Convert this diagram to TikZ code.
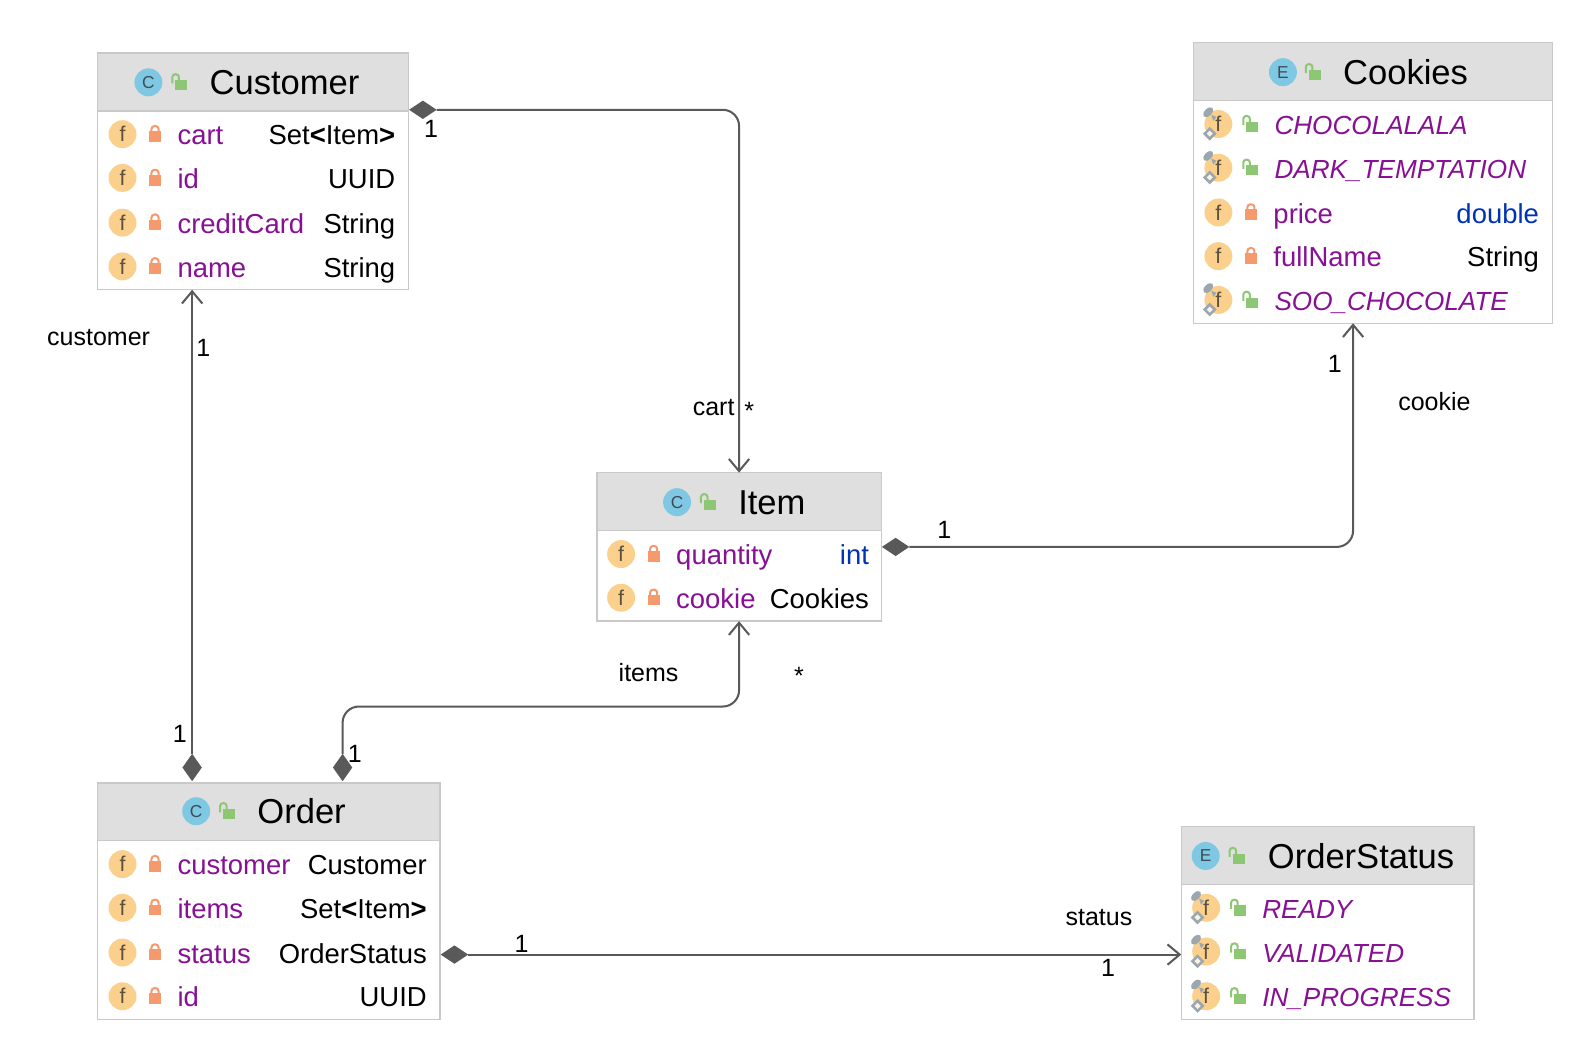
\documentclass[tikz,border=0pt]{standalone}
\usepackage{fontspec}
\setmainfont{Liberation Sans}
\usepackage{tikz}
\usetikzlibrary{arrows.meta,positioning,shapes.geometric}

\definecolor{fieldpurple}{HTML}{871094}
\definecolor{typeblue}{HTML}{0033B3}
\definecolor{headgray}{HTML}{DFDFDF}
\definecolor{boxgray}{HTML}{C9C9C9}
\definecolor{linegray}{HTML}{595959}
\definecolor{iconblue}{HTML}{7EC8E3}
\definecolor{iconyellow}{HTML}{FAD08C}
\definecolor{icontext}{HTML}{3F4B55}
\definecolor{iconbrown}{HTML}{5C5040}
\definecolor{lockorange}{HTML}{F59A6C}
\definecolor{lockgreen}{HTML}{8DC774}
\definecolor{pingray}{HTML}{9AA7B0}

\tikzset{
  classbox/.style={draw=boxgray,fill=white,line width=1.5pt,inner sep=0,outer sep=0},
  headbox/.style={draw=boxgray,fill=headgray,line width=1.5pt,inner sep=0,outer sep=0},
  title/.style={anchor=base west,inner sep=0,yshift=-12pt,font=\fontsize{34}{40}\selectfont},
  fname/.style={anchor=base west,inner sep=0,yshift=-10.5pt,text=fieldpurple,font=\fontsize{27}{32}\selectfont},
  ename/.style={anchor=base west,inner sep=0,yshift=-10.5pt,text=fieldpurple,font=\fontsize{25.7}{32}\selectfont\itshape},
  ftype/.style={anchor=base east,inner sep=0,yshift=-10.5pt,font=\fontsize{27}{32}\selectfont},
  lab/.style={inner sep=0,font=\fontsize{24.6}{30}\selectfont},
  assoc/.style={draw=linegray,line width=2pt,rounded corners=16pt,-{Straight Barb[length=12pt,width=20pt,line width=2pt]}},
  compv/.style={diamond,fill=linegray,inner sep=0,outer sep=0,minimum width=19pt,minimum height=27pt},
  comph/.style={diamond,fill=linegray,inner sep=0,outer sep=0,minimum width=27pt,minimum height=18pt},
  pics/kindicon/.style={code={
    \node[circle,fill=iconblue,minimum size=27.5pt,inner sep=0,text=icontext,font=\fontsize{17}{17}\selectfont] (-k) at (0,0) {#1};
  }},
  pics/fieldicon/.style={code={
    \node[circle,fill=iconyellow,minimum size=27.5pt,inner sep=0,text=iconbrown,font=\fontsize{21}{21}\selectfont] (-f) at (0,0) {f};
  }},
  pics/staticmark/.style={code={
    \fill[pingray,shift={(-10,-11.6)},rotate=45] (0,0) ellipse (6pt and 3.5pt);
    \fill[pingray] (-7,-9) -- (-2,-7) -- (-5,-3) -- cycle;
    \draw[pingray,fill=iconyellow!30,line width=2.5pt] (-8.5,4.5) -- (-3.5,9.5) -- (-8.5,14.5) -- (-13.5,9.5) -- cycle;
  }},
  pics/closedlock/.style={code={
    \fill[lockorange] (-5.8,-3) rectangle (5.8,7.5);
    \draw[lockorange,line width=2pt,rounded corners=3pt] (-3.5,-2) -- (-3.5,-8) -- (3.5,-8) -- (3.5,-2);
  }},
  pics/openlock/.style={code={
    \fill[lockgreen] (-4.5,-2.3) rectangle (7.3,7.6);
    \draw[lockgreen,line width=2pt,rounded corners=3pt] (-7.5,1) -- (-7.5,-8) -- (-1,-8) -- (-1,-2);
  }},
}

% one private field: id, x of the icon, y, name, type, right edge of the box text
\newcommand{\privrow}[6]{
\pic (#1i) at (#2,#3) {fieldicon};
\pic (#1l) at (#2+32,#3) {closedlock};
\node[fname] (#1n) at (#2+54,#3) {#4};
\node[ftype] (#1t) at (#6,#3) {#5};
}
% one enum constant: id, x of the icon, y, name
\newcommand{\enumrow}[4]{
\pic (#1i) at (#2,#3) {fieldicon};
\pic (#1s) at (#2,#3) {staticmark};
\pic (#1l) at (#2+32,#3) {openlock};
\node[ename] (#1n) at (#2+55,#3) {#4};
}
\newcommand{\lt}{{\bfseries <}}
\newcommand{\gt}{{\bfseries >}}

\begin{document}
\begin{tikzpicture}[x=1pt,y=-1pt]
\useasboundingbox (0,0) rectangle (1568,1042.7);

% Customer
\node[classbox,minimum width=306pt,minimum height=233pt] (customer) at (249,168.5) {};
\node[headbox,minimum width=306pt,minimum height=57pt] (customerhead) at (249,80.5) {};
\pic (customerk) at (146,81) {kindicon=C};
\pic (customero) at (177,81) {openlock};
\node[title] (customertitle) at (206,81) {Customer};
\privrow{cart}{120.5}{132}{cart}{Set\lt Item\gt}{389}
\privrow{cid}{120.5}{175}{id}{UUID}{389}
\privrow{card}{120.5}{219}{creditCard}{String}{389}
\privrow{cname}{120.5}{262}{name}{String}{389}

% Cookies
\node[classbox,minimum width=353pt,minimum height=276pt] (cookies) at (1350.5,180) {};
\node[headbox,minimum width=353pt,minimum height=57pt] (cookieshead) at (1350.5,70.5) {};
\pic (cookiesk) at (1262,71) {kindicon=E};
\pic (cookieso) at (1292,71) {openlock};
\node[title] (cookiestitle) at (1321,71) {Cookies};
\enumrow{choc}{1198.5}{122}{CHOCOLALALA}
\enumrow{dark}{1198.5}{165}{DARK\_TEMPTATION}
\privrow{price}{1198.5}{209}{price}{\color{typeblue}double}{1514}
\privrow{full}{1198.5}{252}{fullName}{String}{1514}
\enumrow{soo}{1198.5}{295}{SOO\_CHOCOLATE}

% Item
\node[classbox,minimum width=280pt,minimum height=146pt] (item) at (727,538) {};
\node[headbox,minimum width=280pt,minimum height=57pt] (itemhead) at (727,493.5) {};
\pic (itemk) at (666,494) {kindicon=C};
\pic (itemo) at (697,494) {openlock};
\node[title] (itemtitle) at (726,494) {Item};
\privrow{qty}{611}{545}{quantity}{\color{typeblue}int}{855}
\privrow{cook}{611}{588}{cookie}{Cookies}{855}

% Order
\node[classbox,minimum width=337pt,minimum height=233pt] (order) at (264.5,886.5) {};
\node[headbox,minimum width=337pt,minimum height=57pt] (orderhead) at (264.5,798.5) {};
\pic (orderk) at (193,798) {kindicon=C};
\pic (ordero) at (224,798) {openlock};
\node[title] (ordertitle) at (253,798) {Order};
\privrow{ocust}{120.5}{850}{customer}{Customer}{420}
\privrow{oitems}{120.5}{893}{items}{Set\lt Item\gt}{420}
\privrow{ostat}{120.5}{937}{status}{OrderStatus}{420}
\privrow{oid}{120.5}{980}{id}{UUID}{420}

% OrderStatus
\node[classbox,minimum width=288pt,minimum height=190pt] (status) at (1306,908) {};
\node[headbox,minimum width=288pt,minimum height=57pt] (statushead) at (1306,841.5) {};
\pic (statusk) at (1186,842) {kindicon=E};
\pic (statuso) at (1217,842) {openlock};
\node[title] (statustitle) at (1247,842) {OrderStatus};
\enumrow{ready}{1186.5}{893}{READY}
\enumrow{valid}{1186.5}{936}{VALIDATED}
\enumrow{prog}{1186.5}{980}{IN\_PROGRESS}

% connectors
\node[comph] (cartdia) at (416,108) {};
\node[compv] (custdia) at (189,755) {};
\node[compv] (itemsdia) at (337,755) {};
\node[comph] (cookiedia) at (881,538) {};
\node[comph] (statusdia) at (447,939) {};
\coordinate (custin) at (189,285);
\coordinate (cookiein) at (1331,318);
\coordinate (statusin) at (1162,939);
\coordinate (itemsbend) at (337,695);
\draw[assoc] (cartdia.east) -| (item.north);
\draw[assoc] (custdia.north) -- (custin);
\draw[assoc] (itemsdia.north) -- (itemsbend) -| (item.south);
\draw[assoc] (cookiedia.east) -| (cookiein);
\draw[assoc] (statusdia.east) -- (statusin);

\node[lab] (l1) at (424,127) {1};
\node[lab] (l2) at (702,401) {cart};
\node[lab] (l3) at (737,404) {*};
\node[lab] (l4) at (97,332) {customer};
\node[lab] (l5) at (200,342) {1};
\node[lab] (l6) at (177,722) {1};
\node[lab] (l7) at (638,662) {items};
\node[lab] (l8) at (786,665) {*};
\node[lab] (l9) at (349,742) {1};
\node[lab] (l10) at (929,521) {1};
\node[lab] (l11) at (1313,358) {1};
\node[lab] (l12) at (1411,395) {cookie};
\node[lab] (l13) at (513,928) {1};
\node[lab] (l14) at (1081,903) {status};
\node[lab] (l15) at (1090,952) {1};
\end{tikzpicture}
\end{document}
